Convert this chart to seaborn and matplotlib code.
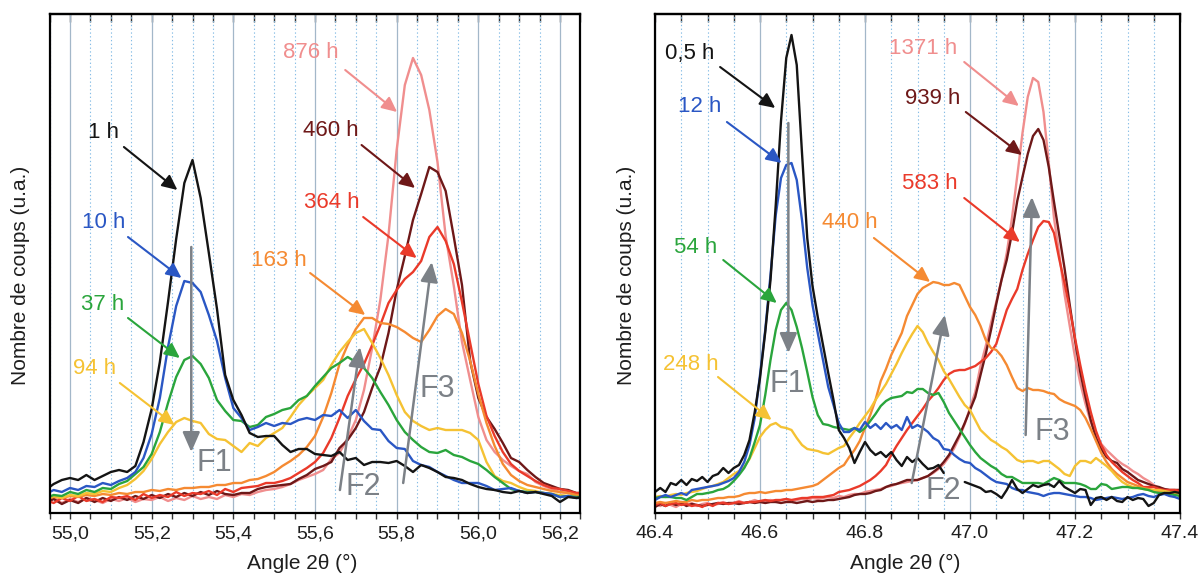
import numpy as np
import pandas as pd
import matplotlib
matplotlib.use("Agg")
import matplotlib.pyplot as plt
import seaborn as sns
from matplotlib.ticker import MultipleLocator, FuncFormatter

sns.set_theme(style="white")
plt.rcParams['font.family'] = ['Liberation Sans', 'DejaVu Sans']

# ---------------- data: left panel (2theta 54.94 -> 56.26, step 0.02) ----------------
angle_left = np.round(54.94 + 0.02 * np.arange(67), 2)

left_1h = [23, 29, 33, 35, 33, 38, 33, 37, 41, 43, 41, 47, 71, 104, 151, 211, 274, 330, 353, 315,
           260, 204, 138, 113, 98, 80, 76, 77, 77, 68, 61, 64, 64, 59, 58, 57, 61, 53, 55, 48,
           51, 51, 50, 52, 47, 41, 48, 45, 41, 36, 35, 33, 29, 26, 24, 23, 21, 20, 22, 20,
           21, 19, 17, 11, 16, 15, 16]
left_10h = [19, 23, 21, 25, 23, 27, 26, 30, 28, 32, 35, 41, 55, 79, 115, 166, 207, 232, 230, 221,
            198, 172, 135, 105, 95, 83, 86, 90, 87, 90, 89, 93, 95, 93, 98, 97, 103, 95, 103, 92,
            84, 83, 72, 65, 64, 52, 48, 46, 41, 37, 33, 30, 30, 30, 27, 23, 24, 25, 22, 20,
            21, 20, 19, 16, 17, 15, 15]
left_37h = [15, 18, 17, 21, 19, 23, 21, 25, 24, 29, 32, 39, 46, 59, 81, 110, 136, 153, 157, 149,
            135, 113, 102, 93, 92, 86, 88, 96, 99, 103, 105, 113, 117, 127, 136, 145, 150, 156, 151, 145,
            135, 121, 108, 93, 81, 73, 66, 61, 60, 63, 58, 56, 52, 49, 43, 36, 30, 24, 22, 21,
            21, 20, 19, 16, 17, 16, 16]
left_94h = [14, 17, 15, 18, 17, 20, 19, 22, 21, 25, 28, 34, 42, 54, 69, 81, 91, 95, 92, 90,
            79, 74, 73, 67, 61, 70, 67, 75, 80, 85, 96, 108, 117, 125, 133, 148, 161, 171, 180, 184,
            170, 155, 138, 118, 101, 92, 87, 83, 85, 83, 83, 83, 80, 73, 51, 37, 32, 30, 26, 23,
            22, 20, 19, 18, 17, 16, 16]
left_163h = [14, 16, 15, 17, 16, 18, 17, 19, 18, 20, 19, 21, 21, 23, 22, 24, 23, 25, 25, 26,
             26, 28, 28, 30, 30, 33, 34, 37, 41, 47, 52, 58, 66, 77, 96, 120, 149, 168, 184, 195,
             195, 190, 189, 186, 181, 175, 171, 183, 197, 204, 199, 180, 152, 119, 90, 67, 49, 38, 32, 28,
             26, 24, 22, 21, 20, 18, 18]
left_364h = [13, 10, 15, 12, 17, 12, 14, 11, 16, 15, 17, 13, 19, 15, 18, 16, 21, 17, 20, 19,
             22, 18, 24, 21, 25, 26, 27, 30, 30, 32, 35, 40, 45, 51, 60, 75, 95, 117, 134, 149,
             168, 188, 210, 223, 234, 241, 252, 276, 286, 272, 249, 211, 170, 129, 97, 77, 61, 49, 42, 37,
             32, 28, 25, 24, 22, 20, 20]
left_460h = [10, 14, 9, 13, 10, 15, 11, 15, 12, 16, 13, 17, 14, 18, 15, 19, 16, 20, 17, 21,
             18, 22, 19, 18, 20, 20, 24, 26, 27, 28, 29, 34, 38, 44, 47, 51, 65, 73, 85, 101,
             125, 146, 180, 223, 257, 293, 319, 346, 341, 322, 276, 228, 152, 115, 96, 84, 70, 55, 51, 43,
             36, 30, 27, 24, 23, 20, 20]
left_876h = [12, 15, 10, 14, 11, 15, 13, 10, 14, 12, 15, 11, 14, 13, 16, 12, 15, 13, 17, 14,
             16, 14, 18, 16, 19, 18, 21, 23, 24, 26, 29, 33, 36, 39, 43, 54, 60, 75, 93, 123,
             165, 213, 278, 363, 428, 455, 438, 403, 351, 277, 227, 171, 133, 96, 73, 61, 53, 47, 42, 39,
             31, 27, 24, 21, 20, 18, 18]

# ---------------- data: right panel (2theta 46.40 -> 47.40, step 0.01) ----------------
angle_right = np.round(46.40 + 0.01 * np.arange(101), 2)
nan = np.nan

right_05h = [21, 25, 21, 30, 28, 33, 28, 34, 32, 36, 31, 37, 39, 45, 40, 45, 48, 58, 73, 101,
             135, 181, 233, 308, 392, 455, 478, 448, 360, 275, 227, 196, 168, 140, 113, 83, 75, 65, 50, 61,
             71, 63, 58, 61, 56, 61, 53, 47, 56, 51, 55, 49, 44, 45, 48, 40, nan, nan, nan, 31,
             29, 27, 25, 21, 22, 19, 15, 23, 33, 24, 20, 24, 28, 26, 28, 29, 26, 32, 26, 23,
             20, 24, 23, 8, 15, 16, 13, 16, 12, 11, 16, 13, 15, 14, 7, 10, 18, 20, 20, 21, 20]
right_12h = [13, 16, 18, 16, 18, 20, 18, 23, 24, 25, 26, 27, 28, 30, 32, 35, 41, 51, 68, 95,
             138, 183, 238, 298, 335, 348, 350, 333, 293, 245, 208, 180, 153, 126, 108, 90, 81, 81, 85, 83,
             91, 85, 89, 84, 90, 85, 88, 83, 96, 85, 88, 85, 81, 75, 72, 64, 63, 58, 54, 51,
             50, 45, 42, 38, 34, 31, 30, 29, 25, 23, 23, 21, 20, 19, 17, 19, 20, 20, 19, 18,
             17, 16, 16, 15, 13, 14, 15, 16, 15, 14, 15, 16, 18, 19, 17, 16, 18, 19, 17, 16, 14]
right_54h = [15, 16, 16, 16, 15, 15, 13, 16, 19, 19, 20, 21, 23, 24, 27, 32, 38, 45, 55, 71,
             88, 118, 153, 183, 203, 210, 203, 186, 165, 141, 116, 98, 89, 88, 86, 85, 84, 83, 85, 81,
             85, 92, 99, 107, 112, 115, 116, 117, 121, 120, 124, 124, 120, 118, 120, 111, 100, 92, 84, 76,
             68, 61, 55, 51, 47, 44, 39, 36, 36, 33, 30, 30, 30, 30, 29, 32, 35, 33, 30, 30,
             30, 29, 27, 24, 24, 29, 28, 24, 25, 26, 26, 25, 25, 24, 23, 21, 20, 20, 19, 18, 17]
right_248h = [16, 17, 16, 18, 19, 18, 20, 21, 22, 24, 26, 27, 29, 31, 35, 39, 42, 46, 54, 65,
              76, 83, 88, 90, 86, 85, 83, 75, 68, 64, 63, 62, 60, 59, 62, 65, 67, 75, 82, 90,
              97, 104, 113, 121, 129, 139, 149, 160, 170, 179, 187, 181, 170, 161, 153, 142, 134, 125, 116, 108,
              103, 93, 83, 78, 73, 70, 66, 63, 58, 53, 51, 52, 52, 50, 52, 52, 48, 44, 39, 37,
              47, 52, 52, 50, 55, 51, 47, 42, 36, 31, 28, 26, 25, 24, 23, 23, 23, 22, 21, 20, 19]
right_440h = [10, 11, 10, 11, 12, 11, 11, 13, 12, 13, 13, 14, 15, 15, 16, 16, 17, 19, 20, 20,
              21, 20, 21, 22, 22, 23, 23, 24, 25, 26, 27, 29, 33, 37, 41, 45, 48, 56, 63, 72,
              85, 98, 113, 132, 144, 158, 169, 180, 197, 208, 219, 225, 228, 231, 230, 228, 228, 230, 228, 217,
              206, 198, 187, 173, 165, 163, 157, 148, 136, 125, 122, 125, 123, 123, 122, 120, 119, 114, 111, 109,
              107, 103, 95, 84, 72, 60, 51, 44, 39, 35, 31, 29, 27, 25, 24, 23, 22, 21, 20, 20, 19]
right_583h = [8, 10, 7, 9, 10, 8, 9, 7, 8, 6, 9, 7, 10, 10, 9, 10, 11, 10, 11, 11,
              12, 13, 12, 13, 13, 14, 13, 14, 15, 15, 16, 16, 16, 17, 18, 21, 22, 23, 25, 27,
              30, 33, 37, 42, 48, 58, 67, 75, 83, 90, 97, 104, 112, 118, 125, 133, 139, 142, 143, 143,
              145, 147, 151, 155, 161, 169, 186, 203, 214, 224, 243, 259, 273, 286, 292, 291, 280, 254, 230, 204,
              175, 148, 123, 101, 82, 68, 58, 51, 46, 41, 37, 33, 30, 26, 26, 26, 24, 23, 23, 23, 22]
right_939h = [6, 9, 7, 10, 8, 10, 7, 9, 8, 7, 8, 9, 10, 9, 10, 10, 9, 10, 11, 10,
              11, 10, 11, 11, 10, 11, 11, 10, 11, 12, 11, 12, 12, 13, 13, 14, 15, 16, 18, 19,
              19, 20, 22, 23, 26, 28, 29, 31, 33, 33, 33, 35, 37, 41, 45, 51, 58, 68, 78, 90,
              103, 116, 138, 159, 183, 209, 233, 253, 280, 312, 336, 359, 377, 384, 373, 346, 311, 278, 245, 208,
              173, 141, 116, 93, 75, 64, 56, 52, 50, 44, 41, 37, 33, 31, 29, 27, 26, 24, 23, 23, 23]
right_1371h = [9, 7, 10, 8, 6, 9, 8, 10, 7, 9, 10, 8, 9, 11, 9, 10, 12, 10, 11, 13,
               11, 12, 13, 11, 13, 14, 12, 13, 14, 13, 15, 14, 15, 16, 15, 17, 16, 18, 19, 19,
               21, 22, 23, 24, 26, 27, 29, 30, 31, 32, 33, 35, 37, 40, 44, 49, 56, 65, 76, 89,
               105, 121, 147, 167, 190, 211, 233, 260, 295, 337, 380, 416, 435, 431, 401, 350, 295, 259, 219, 187,
               156, 130, 109, 91, 78, 69, 63, 58, 53, 49, 46, 42, 39, 35, 32, 28, 25, 24, 23, 23, 23]

left_names = ["1 h", "10 h", "37 h", "94 h", "163 h", "364 h", "460 h", "876 h"]
right_names = ["0,5 h", "12 h", "54 h", "248 h", "440 h", "583 h", "939 h", "1371 h"]
left_values = [left_1h, left_10h, left_37h, left_94h, left_163h, left_364h, left_460h, left_876h]
right_values = [right_05h, right_12h, right_54h, right_248h, right_440h, right_583h, right_939h, right_1371h]
series_colors = ["#141414", "#2a57c4", "#2aa53c", "#f5c233", "#f58a32", "#ea3a2a", "#6e1818", "#f08e8e"]
arrow_gray = "#7c8187"

# annotation layout (data coordinates): label position, arrow start, arrow tip
left_label_pos = [(55.081, 381), (55.082, 291), (55.081, 209), (55.059, 144), (55.512, 253),
                  (55.642, 311), (55.639, 383), (55.590, 460)]
left_arrow_from = [(55.132, 366), (55.142, 276), (55.142, 195), (55.122, 130), (55.588, 240),
                   (55.718, 296), (55.714, 368), (55.674, 443)]
left_arrow_to = [(55.263, 323), (55.273, 235), (55.269, 155), (55.256, 88), (55.723, 198),
                 (55.849, 255), (55.845, 325), (55.801, 401)]
right_label_pos = [(46.467, 460), (46.486, 407), (46.477, 266), (46.469, 148), (46.771, 291),
                   (46.924, 330), (46.928, 415), (46.911, 465)]
right_arrow_from = [(46.524, 446), (46.537, 391), (46.530, 253), (46.520, 136), (46.817, 275),
                    (46.989, 315), (46.992, 401), (46.989, 451)]
right_arrow_to = [(46.629, 405), (46.641, 350), (46.632, 210), (46.622, 93), (46.924, 231),
                  (47.095, 271), (47.099, 358), (47.093, 407)]

f_names = ["F1", "F2", "F3"]
left_f_pos = [(55.354, 50), (55.718, 26), (55.899, 124)]
left_f_from = [(55.297, 266), (55.661, 23), (55.816, 30)]
left_f_to = [(55.297, 61), (55.710, 166), (55.886, 251)]
right_f_pos = [(46.652, 129), (46.949, 22), (47.156, 81)]
right_f_from = [(46.654, 390), (46.889, 30), (47.106, 78)]
right_f_to = [(46.654, 160), (46.952, 198), (47.118, 316)]


def build_frame(angles, names, arrays):
    parts = []
    for name, vals in zip(names, arrays):
        vals = np.asarray(vals, dtype=float)
        seg = np.cumsum(np.isnan(vals))
        df = pd.DataFrame({"angle": angles, "counts": vals, "series": name,
                           "segment": [f"{name}#{s}" for s in seg]})
        parts.append(df.dropna(subset=["counts"]))
    return pd.concat(parts, ignore_index=True)


W, H = 1203, 575
fig = plt.figure(figsize=(W / 100, H / 100), dpi=100)
ax_l = fig.add_axes([49.6 / W, 1 - 513 / H, (580.4 - 49.6) / W, 499 / H])
ax_r = fig.add_axes([655 / W, 1 - 513 / H, 525 / W, 499 / H])

panels = [
    (ax_l, angle_left, left_names, left_values, (54.95, 56.25), True,
     left_label_pos, left_arrow_from, left_arrow_to, left_f_pos, left_f_from, left_f_to),
    (ax_r, angle_right, right_names, right_values, (46.4, 47.4), False,
     right_label_pos, right_arrow_from, right_arrow_to, right_f_pos, right_f_from, right_f_to),
]

for (ax, angles, names, values, xlim, comma, lab_pos, a_from, a_to, f_pos, f_from, f_to) in panels:
    df = build_frame(angles, names, values)
    pal = dict(zip(names, series_colors))
    sns.lineplot(data=df, x="angle", y="counts", hue="series", units="segment",
                 estimator=None, sort=False, hue_order=names[::-1], palette=pal,
                 legend=False, linewidth=1.7, ax=ax, zorder=3)
    ax.set_xlim(*xlim)
    ax.set_ylim(0, 499)
    ax.set_xlabel("")
    ax.set_ylabel("")
    ax.set_yticks([])
    ax.xaxis.set_major_locator(MultipleLocator(0.2))
    ax.xaxis.set_minor_locator(MultipleLocator(0.05))
    if comma:
        ax.xaxis.set_major_formatter(FuncFormatter(lambda v, p: f"{v:.1f}".replace(".", ",")))
    else:
        ax.xaxis.set_major_formatter(FuncFormatter(lambda v, p: f"{v:.1f}"))
    ax.set_axisbelow(True)
    ax.xaxis.grid(True, which="major", color="#a3b7c9", linestyle="-", linewidth=0.9)
    ax.xaxis.grid(True, which="minor", color="#86bde6", linestyle=(0, (1.2, 2.2)), linewidth=0.8)
    ax.tick_params(axis="x", which="both", bottom=True, top=False, direction="out",
                   length=4, width=1.0, color="#333333", pad=5,
                   labelsize=14, labelcolor="#1e1e1e")
    for sp in ax.spines.values():
        sp.set_color("black")
        sp.set_linewidth(1.6)
        sp.set_zorder(5)
    sec = ax.secondary_xaxis("top")
    sec.xaxis.set_major_locator(MultipleLocator(0.05))
    sec.tick_params(axis="x", direction="in", length=6, width=1.0, color="#333333",
                    labeltop=False)
    sec.spines["top"].set_linewidth(1.6)

    for name, c, tp, af, at in zip(names, series_colors, lab_pos, a_from, a_to):
        ax.text(tp[0], tp[1], name, color=c, fontsize=16, ha="center", va="center", zorder=6)
        ax.annotate("", xy=at, xytext=af, zorder=6,
                    arrowprops=dict(arrowstyle="-|>,head_length=0.7,head_width=0.33",
                                    color=c, lw=1.5, shrinkA=0, shrinkB=0, mutation_scale=13))
    for fn, fp, ff, ft in zip(f_names, f_pos, f_from, f_to):
        ax.text(fp[0], fp[1], fn, color=arrow_gray, fontsize=22, ha="center", va="center", zorder=6)
        ax.annotate("", xy=ft, xytext=ff, zorder=6,
                    arrowprops=dict(arrowstyle="-|>,head_length=0.8,head_width=0.35",
                                    color=arrow_gray, lw=1.8, shrinkA=0, shrinkB=0,
                                    mutation_scale=15))

# axis titles
for xc in (302, 905):
    fig.text(xc / W, 1 - 563 / H, "Angle 2θ (°)", fontsize=15, ha="center", va="center",
             color="#1e1e1e")
for xc in (21, 627):
    fig.text(xc / W, 1 - 275 / H, "Nombre de coups (u.a.)", fontsize=15, rotation=90,
             ha="center", va="center", color="#1e1e1e")

fig.savefig("out.png", dpi=100, facecolor="white")
